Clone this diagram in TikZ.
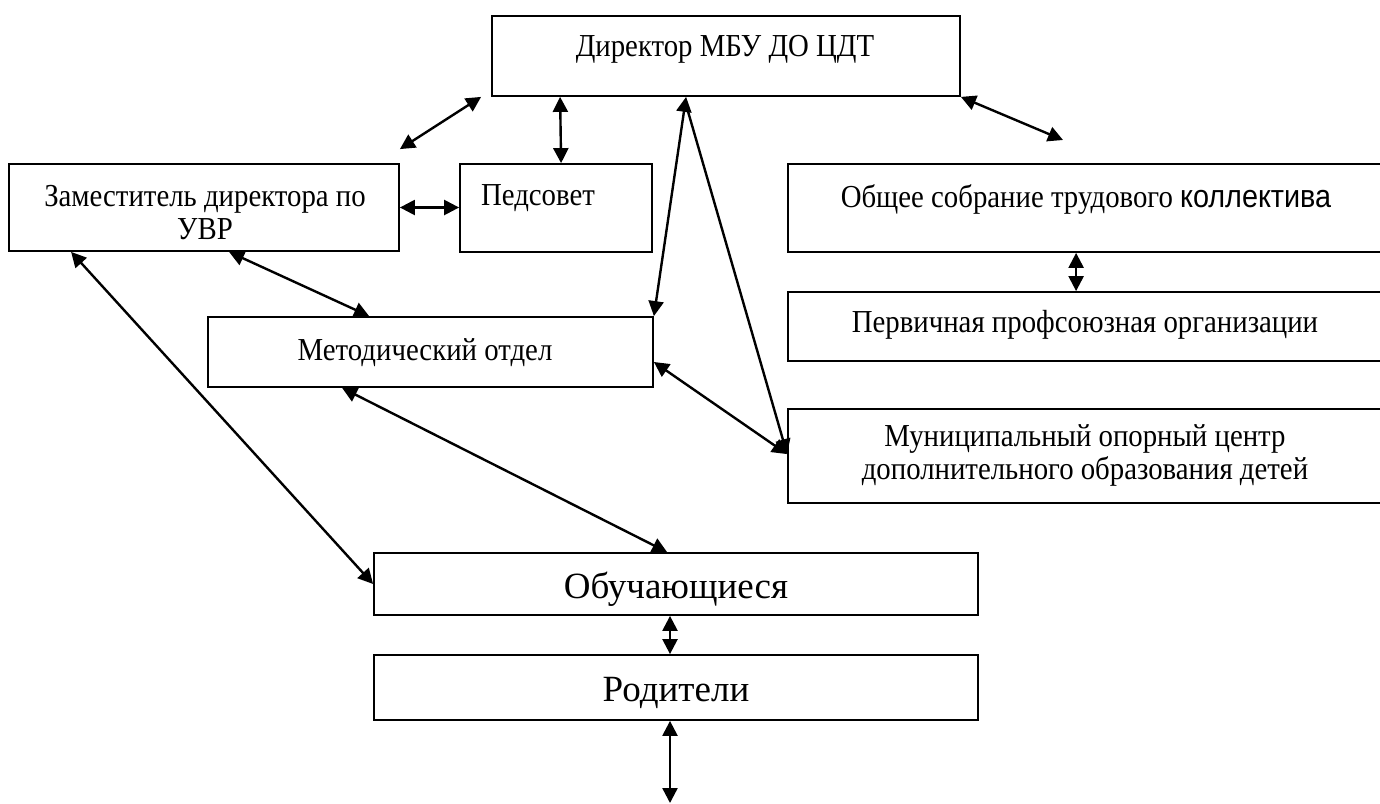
\documentclass[tikz,border=0pt]{standalone}
\usepackage{fontspec}
\setmainfont{Liberation Serif}[FakeStretch=0.9]
\newfontfamily\sansf{Liberation Sans}[FakeStretch=0.9]
\newfontfamily\bigf{Liberation Serif}
\usetikzlibrary{arrows.meta,calc}
\begin{document}
\begin{tikzpicture}[x=1pt,y=-1pt,
  box/.style={draw,line width=1.8pt,rectangle,inner sep=0pt},
  lbl/.style={inner sep=0pt,align=center,font=\fontsize{32}{33}\selectfont},
  big/.style={inner sep=0pt,anchor=base,font=\bigf\fontsize{37}{42}\selectfont},
  link/.style={line width=2.4pt,{Triangle[length=15pt,width=15pt]}-{Triangle[length=15pt,width=15pt]}},
  onelink/.style={line width=2.4pt,-{Triangle[length=15pt,width=15pt]}},
]
\useasboundingbox (0,0) rectangle (1380,803);
% boxes
\node[box,minimum width=468pt,minimum height=80pt] (dir) at (726,56) {};
\node[box,minimum width=390pt,minimum height=87pt] (zam) at (204,207.5) {};
\node[box,minimum width=192pt,minimum height=88pt] (ped) at (556,208) {};
\node[box,minimum width=602pt,minimum height=88pt] (obs) at (1089,208) {};
\node[box,minimum width=602pt,minimum height=69pt] (per) at (1089,326.5) {};
\node[box,minimum width=602pt,minimum height=94pt] (mun) at (1089,456) {};
\node[box,minimum width=445pt,minimum height=70pt] (met) at (430.5,352) {};
\node[box,minimum width=604pt,minimum height=62pt] (obu) at (676,584) {};
\node[box,minimum width=604pt,minimum height=65pt] (rod) at (676,687.5) {};
% texts
\node[lbl,anchor=base] (dirT) at (725,56) {Директор МБУ ДО ЦДТ};
\node[lbl] (zamT) at (205,212.5) {Заместитель директора по\\УВР};
\node[lbl,anchor=base] (pedT) at (538,205) {Педсовет};
\node[lbl,anchor=base] (obsT) at (1086,207) {Общее собрание трудового {\sansf коллектива}};
\node[lbl,anchor=base] (perT) at (1085,332) {Первичная профсоюзная организации};
\node[lbl] (munT) at (1085,455.5) {Муниципальный опорный центр\\дополнительного образования детей};
\node[lbl,anchor=base] (metT) at (425,360) {Методический отдел};
\node[big] (obuT) at (676,598) {Обучающиеся};
\node[big] (rodT) at (676,701) {Родители};
% free ends
\coordinate (obsEnd) at (1063,140);
\coordinate (bottomEnd) at (670,803);
% connectors
\draw[link] ([xshift=-10pt]dir.south west) -- ([yshift=14pt]zam.north east);
\draw[link] ([xshift=69pt]dir.south west) -- ([xshift=102pt]ped.north west);
\draw[link] ([xshift=195pt]dir.south west) -- (met.north east);
\draw[onelink] ([xshift=195pt,yshift=-8pt]dir.south west) -- ([yshift=-46pt]mun.north west);
\draw[link] (dir.south east) -- (obsEnd);
\draw[link] (zam.east) -- (zam.east -| ped.west);
\draw[link] ([xshift=221pt]zam.south west) -- ([xshift=162pt]met.north west);
\draw[link] ([xshift=63pt]zam.south west) -- (obu.west);
\draw[link] ([xshift=135pt]met.south west) -- ([xshift=294pt]obu.north west);
\draw[link] ([yshift=-10pt]met.east) -- ([yshift=-46pt]mun.north west);
\draw[link] ([xshift=289pt]obs.south west) -- ([xshift=289pt]per.north west);
\draw[link] ([xshift=-6pt]obu.south) -- ([xshift=-6pt]rod.north);
\draw[link] ([xshift=-6pt]rod.south) -- (bottomEnd);
\end{tikzpicture}
\end{document}
